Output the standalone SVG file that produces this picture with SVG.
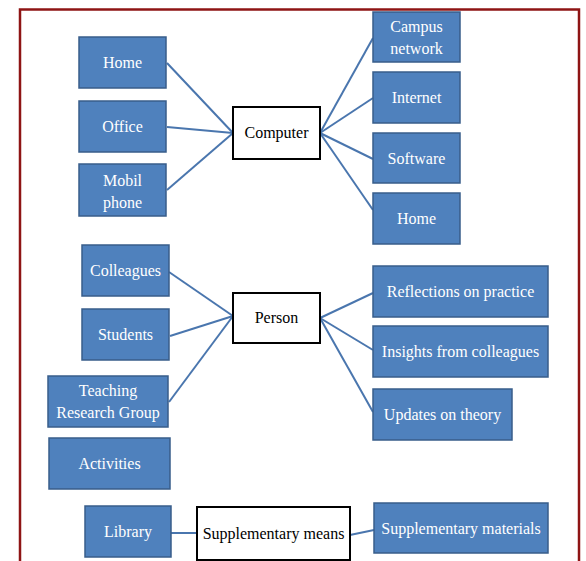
<svg xmlns="http://www.w3.org/2000/svg" width="586" height="561" viewBox="0 0 586 561">
<style>
.b{fill:#4F81BD;stroke:#385D8A;stroke-width:1.5}
.w{fill:#fff;stroke:#000;stroke-width:2}
.t{font-family:"Liberation Serif","Times New Roman",serif;font-size:16px;text-anchor:middle}
.tw{fill:#fff}
.tk{fill:#000}
.c{stroke:#4A76AE;stroke-width:2;fill:none}
</style>
<rect x="0" y="0" width="586" height="561" fill="#fff"/>
<rect x="20" y="9.5" width="559" height="570" fill="none" stroke="#8E1414" stroke-width="2.5"/>
<g id="connectors">
<line class="c" x1="167" y1="63" x2="233" y2="133"/>
<line class="c" x1="167" y1="127" x2="233" y2="133"/>
<line class="c" x1="167" y1="190" x2="233" y2="133"/>
<line class="c" x1="320" y1="133" x2="373" y2="38"/>
<line class="c" x1="320" y1="133" x2="373" y2="98"/>
<line class="c" x1="320" y1="133" x2="373" y2="159"/>
<line class="c" x1="320" y1="133" x2="373" y2="210"/>
<line class="c" x1="169" y1="272" x2="233" y2="316"/>
<line class="c" x1="170" y1="336" x2="233" y2="316"/>
<line class="c" x1="169" y1="402" x2="233" y2="316"/>
<line class="c" x1="320" y1="318" x2="373" y2="293"/>
<line class="c" x1="320" y1="318" x2="373" y2="350"/>
<line class="c" x1="320" y1="318" x2="373" y2="412"/>
<line class="c" x1="171" y1="533" x2="197" y2="533"/>
<line class="c" x1="350" y1="535" x2="374" y2="530"/>
</g>
<g id="home1"><rect class="b" x="79" y="37" width="87" height="51"/><text class="t tw" x="122.5" y="68">Home</text></g>
<g id="office"><rect class="b" x="79" y="101" width="87" height="51"/><text class="t tw" x="122.5" y="132">Office</text></g>
<g id="mobil"><rect class="b" x="79" y="164" width="87" height="52"/><text class="t tw" x="122.5" y="186">Mobil</text><text class="t tw" x="122.5" y="208">phone</text></g>
<g id="computer"><rect class="w" x="233" y="107" width="87" height="52"/><text class="t tk" x="276.5" y="138">Computer</text></g>
<g id="campus"><rect class="b" x="373" y="12" width="87" height="50"/><text class="t tw" x="416.5" y="32">Campus</text><text class="t tw" x="416.5" y="54">network</text></g>
<g id="internet"><rect class="b" x="373" y="72" width="87" height="51"/><text class="t tw" x="416.5" y="103">Internet</text></g>
<g id="software"><rect class="b" x="373" y="133" width="87" height="50"/><text class="t tw" x="416.5" y="164">Software</text></g>
<g id="home2"><rect class="b" x="373" y="193" width="87" height="51"/><text class="t tw" x="416.5" y="224">Home</text></g>
<g id="colleagues"><rect class="b" x="82" y="245" width="87" height="51"/><text class="t tw" x="125.5" y="276">Colleagues</text></g>
<g id="students"><rect class="b" x="82" y="309" width="87" height="51"/><text class="t tw" x="125.5" y="340">Students</text></g>
<g id="trg"><rect class="b" x="48" y="376" width="120" height="51"/><text class="t tw" x="108" y="396">Teaching</text><text class="t tw" x="108" y="418">Research Group</text></g>
<g id="activities"><rect class="b" x="49" y="438" width="121" height="51"/><text class="t tw" x="109.5" y="469">Activities</text></g>
<g id="person"><rect class="w" x="233" y="293" width="87" height="50"/><text class="t tk" x="276.5" y="323">Person</text></g>
<g id="reflections"><rect class="b" x="373" y="266" width="175" height="51"/><text class="t tw" x="460.5" y="297">Reflections on practice</text></g>
<g id="insights"><rect class="b" x="373" y="326" width="175" height="51"/><text class="t tw" x="460.5" y="357">Insights  from  colleagues</text></g>
<g id="updates"><rect class="b" x="373" y="389" width="139" height="51"/><text class="t tw" x="442.5" y="420">Updates on theory</text></g>
<g id="library"><rect class="b" x="85" y="506" width="86" height="51"/><text class="t tw" x="128" y="537">Library</text></g>
<g id="suppmeans"><rect class="w" x="197" y="507" width="153" height="53"/><text class="t tk" x="273.5" y="539">Supplementary means</text></g>
<g id="suppmat"><rect class="b" x="374" y="503" width="174" height="50"/><text class="t tw" x="461" y="534">Supplementary materials</text></g>
</svg>
